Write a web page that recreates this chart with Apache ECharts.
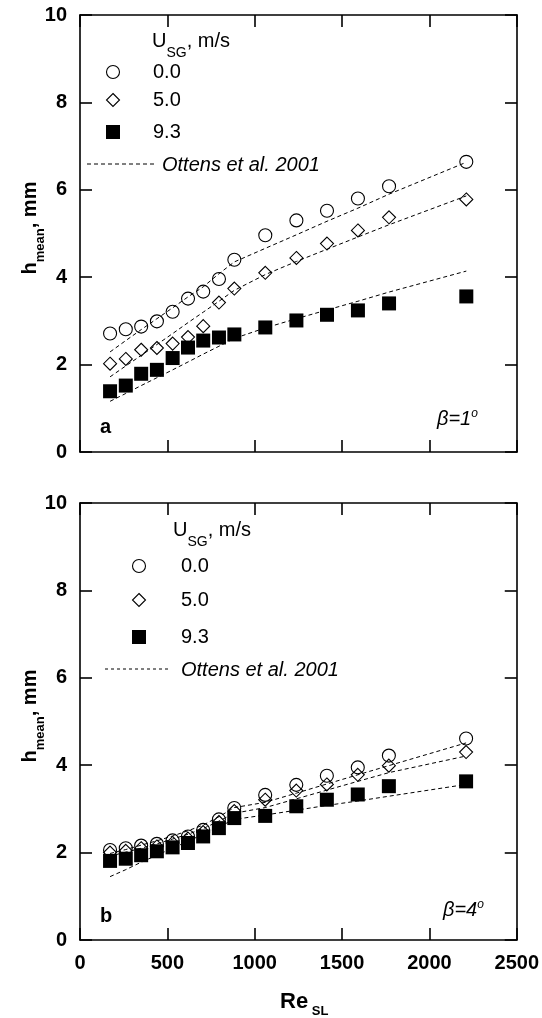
<!DOCTYPE html>
<html>
<head>
<meta charset="utf-8">
<script src="https://cdn.jsdelivr.net/npm/echarts@6/dist/echarts.min.js"></script>
<style>
html,body{margin:0;padding:0;background:#fff;}
#c{width:542px;height:1018px;}
</style>
</head>
<body>
<div id="c"></div>
<script>
// ---------- data ----------
const reSL = [172, 262, 350, 440, 530, 618, 705, 795, 883, 1060, 1238, 1413, 1590, 1768, 2210];

// panel a (beta = 1 deg)
const a_usg0  = [2.71, 2.81, 2.87, 2.99, 3.21, 3.51, 3.67, 3.96, 4.40, 4.96, 5.30, 5.52, 5.80, 6.08, 6.64];
const a_usg5  = [2.02, 2.13, 2.34, 2.38, 2.48, 2.63, 2.88, 3.42, 3.74, 4.10, 4.44, 4.77, 5.07, 5.37, 5.78];
const a_usg93 = [1.39, 1.52, 1.79, 1.88, 2.15, 2.39, 2.55, 2.62, 2.69, 2.85, 3.01, 3.14, 3.24, 3.40, 3.56];
const a_ott0  = [2.29, 2.55, 2.80, 3.05, 3.30, 3.55, 3.78, 4.08, 4.35, 4.66, 4.97, 5.28, 5.58, 5.90, 6.63];
const a_ott5  = [1.72, 1.97, 2.21, 2.46, 2.71, 2.96, 3.20, 3.45, 3.70, 4.06, 4.36, 4.64, 4.92, 5.20, 5.86];
const a_ott93 = [1.16, 1.34, 1.52, 1.70, 1.88, 2.06, 2.24, 2.42, 2.60, 2.84, 3.05, 3.25, 3.45, 3.66, 4.14];

// panel b (beta = 4 deg)
const b_usg0  = [2.06, 2.10, 2.16, 2.20, 2.28, 2.37, 2.52, 2.76, 3.02, 3.32, 3.55, 3.76, 3.95, 4.22, 4.61];
const b_usg5  = [2.00, 2.04, 2.10, 2.14, 2.22, 2.32, 2.47, 2.70, 2.95, 3.21, 3.42, 3.56, 3.78, 3.99, 4.30];
const b_usg93 = [1.81, 1.86, 1.94, 2.03, 2.12, 2.22, 2.37, 2.56, 2.79, 2.84, 3.06, 3.21, 3.33, 3.52, 3.63];
const b_ott0  = [1.98, 2.07, 2.17, 2.27, 2.38, 2.50, 2.63, 2.82, 3.03, 3.15, 3.36, 3.57, 3.78, 3.99, 4.51];
const b_ott5  = [1.92, 2.01, 2.10, 2.20, 2.31, 2.42, 2.55, 2.72, 2.90, 3.03, 3.23, 3.43, 3.63, 3.83, 4.21];
const b_ott93 = [1.45, 1.61, 1.78, 1.94, 2.10, 2.26, 2.42, 2.59, 2.76, 2.86, 2.97, 3.08, 3.18, 3.29, 3.56];

const xTicks = [0, 500, 1000, 1500, 2000, 2500];
const yTicks = [0, 2, 4, 6, 8, 10];
const legendLabels = ['0.0', '5.0', '9.3'];
const modelLabel = 'Ottens et al. 2001';

// ---------- styling ----------
const FONT = '"Liberation Sans", Arial, Helvetica, sans-serif';
const AX = {color: '#000', width: 1.6};
const pair = (xs, ys) => xs.map((x, i) => [x, ys[i]]);
const plain = (v) => String(v);

function xAxisPair(grid, labels) {
  const base = {
    gridIndex: grid, type: 'value',
    min: xTicks[0], max: xTicks[xTicks.length - 1], interval: xTicks[1] - xTicks[0],
    splitLine: {show: false},
    axisLine: {show: true, onZero: false, lineStyle: AX},
    axisTick: {show: true, inside: true, length: 12, lineStyle: AX}
  };
  return [
    Object.assign({}, base, {position: 'bottom',
      axisLabel: {show: labels, margin: 13, color: '#000', fontSize: 20, fontWeight: 'bold',
        fontFamily: FONT, formatter: plain}}),
    Object.assign({}, base, {position: 'top', axisLabel: {show: false}})
  ];
}
function yAxisPair(grid) {
  const base = {
    gridIndex: grid, type: 'value',
    min: yTicks[0], max: yTicks[yTicks.length - 1], interval: yTicks[1] - yTicks[0],
    splitLine: {show: false},
    axisLine: {show: true, onZero: false, lineStyle: AX},
    axisTick: {show: true, inside: true, length: 12, lineStyle: AX}
  };
  return [
    Object.assign({}, base, {position: 'left',
      axisLabel: {show: true, margin: 13, color: '#000', fontSize: 20, fontWeight: 'bold',
        fontFamily: FONT, formatter: plain}}),
    Object.assign({}, base, {position: 'right', axisLabel: {show: false}})
  ];
}

const hollow = {color: 'rgba(255,255,255,0)', borderColor: '#000', borderWidth: 1.1, opacity: 1};
const solid = {color: '#000', borderWidth: 0, opacity: 1};
const dashed = {color: '#000', width: 1, type: [4, 3], opacity: 1};

function panelSeries(xi, yi, u0, u5, u93, m0, m5, m93) {
  const line = (d) => ({type: 'line', xAxisIndex: xi, yAxisIndex: yi, data: pair(reSL, d),
    symbol: 'none', lineStyle: dashed, silent: true, z: 2, animation: false});
  return [
    line(m0), line(m5), line(m93),
    {type: 'scatter', name: legendLabels[0], xAxisIndex: xi, yAxisIndex: yi, data: pair(reSL, u0),
      symbol: 'circle', symbolSize: 13, itemStyle: hollow, z: 3, animation: false},
    {type: 'scatter', name: legendLabels[1], xAxisIndex: xi, yAxisIndex: yi, data: pair(reSL, u5),
      symbol: 'diamond', symbolSize: 13, itemStyle: hollow, z: 4, animation: false},
    {type: 'scatter', name: legendLabels[2], xAxisIndex: xi, yAxisIndex: yi, data: pair(reSL, u93),
      symbol: 'rect', symbolSize: 14, itemStyle: solid, z: 5, animation: false}
  ];
}

// ---------- text / legend graphics ----------
const txt = (x, y, text, extra) => ({type: 'text', x: x, y: y, silent: true,
  style: Object.assign({text: text, fill: '#000', fontSize: 20, fontFamily: FONT,
    align: 'left', verticalAlign: 'middle'}, extra || {})});
const richSub = (subSize, pad, bold, mainSize) => ({
  m: {fontSize: mainSize || 20, fontFamily: FONT, fontWeight: bold ? 'bold' : 'normal', fill: '#000'},
  s: {fontSize: subSize, fontFamily: FONT, fontWeight: bold ? 'bold' : 'normal', fill: '#000', padding: pad}
});

function legendGraphics(L) {
  const g = [];
  g.push(txt(L.tx, L.ty, '{m|U}{s|SG}{m|, m/s}', {rich: richSub(14, [24, 0, 0, 0], false)}));
  g.push({type: 'circle', silent: true, shape: {cx: L.sx, cy: L.y0, r: 6.5},
    style: {fill: 'none', stroke: '#000', lineWidth: 1.1}});
  g.push({type: 'polygon', silent: true,
    shape: {points: [[L.sx, L.y1 - 6.5], [L.sx + 6.5, L.y1], [L.sx, L.y1 + 6.5], [L.sx - 6.5, L.y1]]},
    style: {fill: 'none', stroke: '#000', lineWidth: 1.1}});
  g.push({type: 'rect', silent: true, shape: {x: L.sx - 7, y: L.y2 - 7, width: 14, height: 14},
    style: {fill: '#000'}});
  g.push(txt(L.lx, L.y0, legendLabels[0]));
  g.push(txt(L.lx, L.y1, legendLabels[1]));
  g.push(txt(L.lx, L.y2, legendLabels[2]));
  g.push({type: 'line', silent: true, shape: {x1: L.dx1, y1: L.dy, x2: L.dx2, y2: L.dy},
    style: {stroke: '#000', lineWidth: 1, lineDash: L.dash}});
  g.push(txt(L.ox, L.dy + 1, modelLabel, {fontStyle: 'italic'}));
  return g;
}

const graphics = [].concat(
  legendGraphics({tx: 152, ty: 41, sx: 113, lx: 153, y0: 72, y1: 100, y2: 132,
    dx1: 87, dx2: 155, dy: 164, ox: 162, dash: [4, 3]}),
  legendGraphics({tx: 173, ty: 530, sx: 139, lx: 181, y0: 566, y1: 600, y2: 637,
    dx1: 105, dx2: 170, dy: 669, ox: 181, dash: [3, 3]}),
  [
    txt(100, 427, 'a', {fontWeight: 'bold'}),
    txt(100, 916, 'b', {fontWeight: 'bold'}),
    txt(437, 419, '{m|β=1}{p|o}', {rich: {
      m: {fontSize: 20, fontFamily: FONT, fontStyle: 'italic', fill: '#000'},
      p: {fontSize: 12, fontFamily: FONT, fontStyle: 'italic', fill: '#000', padding: [0, 0, 11, 0]}}}),
    txt(443, 910, '{m|β=4}{p|o}', {rich: {
      m: {fontSize: 20, fontFamily: FONT, fontStyle: 'italic', fill: '#000'},
      p: {fontSize: 12, fontFamily: FONT, fontStyle: 'italic', fill: '#000', padding: [0, 0, 11, 0]}}}),
    // y axis titles (rotated)
    {type: 'text', x: 30.5, y: 228, rotation: Math.PI / 2, silent: true,
      style: {text: '{m|h}{s|mean}{m|, mm}', align: 'center', verticalAlign: 'middle',
        rich: richSub(13, [20, 0, 0, 0], true)}},
    {type: 'text', x: 30.5, y: 716, rotation: Math.PI / 2, silent: true,
      style: {text: '{m|h}{s|mean}{m|, mm}', align: 'center', verticalAlign: 'middle',
        rich: richSub(13, [20, 0, 0, 0], true)}},
    // x axis title
    txt(280, 1002, '{m|Re}{s| SL}', {rich: richSub(13, [18, 0, 0, 0], true, 22)})
  ]
);

const option = {
  backgroundColor: '#fff',
  animation: false,
  grid: [
    {left: 80, top: 15, width: 437, height: 437, containLabel: false},
    {left: 80, top: 503, width: 437, height: 437, containLabel: false}
  ],
  xAxis: [].concat(xAxisPair(0, false), xAxisPair(1, true)),
  yAxis: [].concat(yAxisPair(0), yAxisPair(1)),
  series: [].concat(
    panelSeries(0, 0, a_usg0, a_usg5, a_usg93, a_ott0, a_ott5, a_ott93),
    panelSeries(2, 2, b_usg0, b_usg5, b_usg93, b_ott0, b_ott5, b_ott93)
  ),
  graphic: graphics
};

const chart = echarts.init(document.getElementById('c'), null, {renderer: 'canvas'});
chart.setOption(option);
</script>
</body>
</html>
